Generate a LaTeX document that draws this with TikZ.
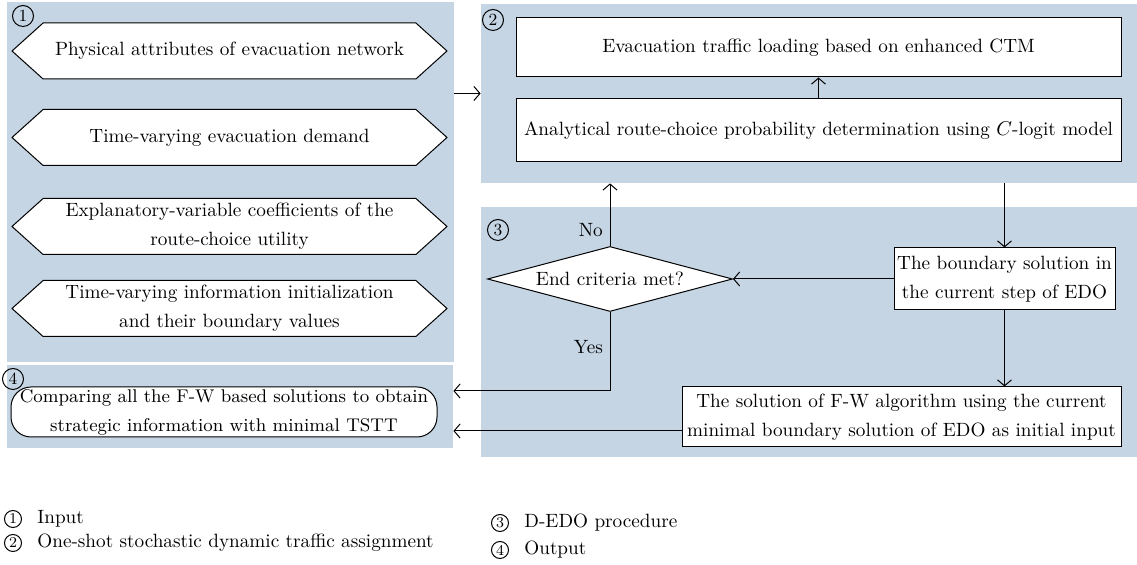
\documentclass[tikz,border=0pt]{standalone}
\usepackage{fontspec}
\usetikzlibrary{shapes.symbols,shapes.geometric,arrows.meta,fit,positioning}

\newcommand\boxfont{\fontsize{9.6}{14.5}\selectfont}

\tikzset{
  panel/.style={fill=panelblue, inner sep=0pt},
  num/.style={circle, draw, line width=0.5pt, inner sep=0pt, minimum size=10.5pt,
    font=\fontsize{8.5}{8.5}\selectfont},
  keynum/.style={num, minimum size=8.5pt, font=\fontsize{7.5}{7.5}\selectfont},
  inbox/.style={signal, signal to=west and east, signal pointer angle=84,
    draw, fill=white, line width=0.5pt, minimum width=217.5pt, minimum height=28pt,
    align=center, inner sep=1pt, font=\boxfont},
  stepbox/.style={rectangle, draw, fill=white, line width=0.5pt, align=center,
    inner sep=1pt, font=\boxfont},
  decision/.style={diamond, draw, fill=white, line width=0.5pt, aspect=3.8,
    inner sep=0pt, minimum width=122.5pt, minimum height=32.5pt, font=\boxfont},
  outbox/.style={rectangle, rounded corners=10pt, draw, fill=white, line width=0.5pt,
    minimum width=213pt, minimum height=25pt, align=center, inner sep=0pt,
    font=\fontsize{9.2}{14.5}\selectfont},
  flow/.style={line width=0.5pt, -{Straight Barb[length=3pt,width=7pt]}},
  key/.style={inner sep=0pt, font=\boxfont}
}

\begin{document}
\begin{tikzpicture}[x=0.5pt,y=-0.5pt]
    % Define colors
    \definecolor{panelblue}{RGB}{197,213,228}
    \useasboundingbox (0,0) rectangle (1137,565);

    % Draw background panels
    \node[panel, fit={(7,2) (454,362)}] (input) {};
    \node[panel, fit={(481,4) (1137,183)}] (assign) {};
    \node[panel, fit={(481,207) (1137,457)}] (procedure) {};
    \node[panel, fit={(7,365) (453,448)}] (output) {};

    \node[num] (n1) at (23,16) {1};
    \node[num] (n2) at (493,20) {2};
    \node[num] (n3) at (498,230) {3};
    \node[num] (n4) at (13,379) {4};

    % Input data
    \node[inbox] (network) at (229.5,51) {Physical attributes of evacuation network};
    \node[inbox] (demand) at (229.5,137.5) {Time-varying evacuation demand};
    \node[inbox] (coeff) at (229.5,226.5) {Explanatory-variable coefficients of the\\ route-choice utility};
    \node[inbox] (init) at (229.5,308.5) {Time-varying information initialization\\ and their boundary values};

    % Traffic assignment
    \node[stepbox, minimum width=302.5pt, minimum height=29.5pt] (loading) at (818.5,47.5)
        {Evacuation traffic loading based on enhanced CTM};
    \node[stepbox, minimum width=302.5pt, minimum height=31.5pt] (choice) at (818.5,130.5)
        {Analytical route-choice probability determination using $C$-logit model};

    % EDO procedure
    \node[stepbox, minimum width=110.5pt, minimum height=31pt] (boundary) at (1004.5,279)
        {The boundary solution in\\ the current step of EDO};
    \node[decision] (endcheck) at (610,279) {End criteria met?};
    \node[stepbox, minimum width=219.5pt, minimum height=30pt] (fwsol) at (901.5,417)
        {The solution of F-W algorithm using the current\\ minimal boundary solution of EDO as initial input};

    % Output
    \node[outbox] (summary) at (224,412)
        {Comparing all the F-W based solutions to obtain\\ strategic information with minimal TSTT};

    % Connectors
    \draw[flow] (input.east |- assign.west) -- (assign.west);
    \draw[flow] (choice) -- (loading);
    \draw[flow] (assign.south -| boundary.north) -- (boundary.north);
    \draw[flow] (boundary.south) -- (boundary.south |- fwsol.north);
    \draw[flow] (boundary.west) -- (endcheck.east);
    \draw[flow] (endcheck.north) -- (endcheck.north |- assign.south)
        node[pos=0.25, left, font=\boxfont] {No};
    \coordinate (yesturn) at (610,391);
    \draw[flow] (endcheck.south) -- (yesturn) node[pos=0.45, left, font=\boxfont] {Yes}
        -- (yesturn -| output.east);
    \coordinate (fwout) at ([yshift=-7pt]fwsol.west);
    \draw[flow] (fwout) -- (fwout -| output.east);

    % Legend
    \node[keynum] (k1) at (13,519) {1};
    \node[keynum] (k2) at (13,543) {2};
    \node[keynum] (k3) at (500,523) {3};
    \node[keynum] (k4) at (500,550) {4};
    \node[key, right=7.5pt of k1] (key1) {Input};
    \node[key, right=7.5pt of k2] (key2) {One-shot stochastic dynamic traffic assignment};
    \node[key, right=7.5pt of k3] (key3) {D-EDO procedure};
    \node[key, right=7.5pt of k4] (key4) {Output};
\end{tikzpicture}
\end{document}
